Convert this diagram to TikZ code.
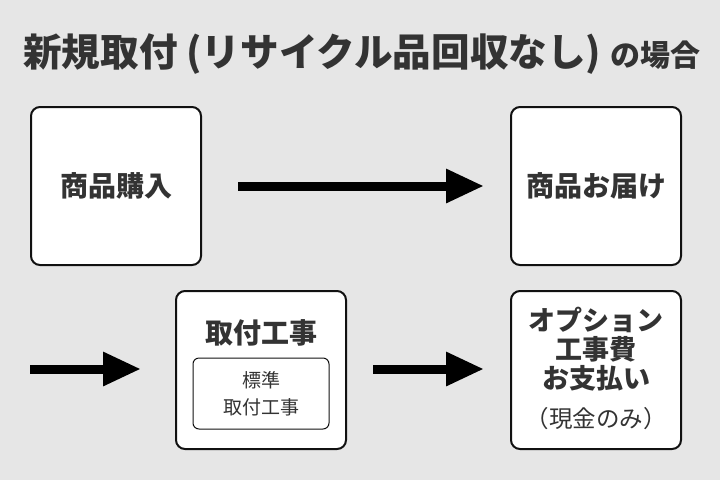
\documentclass[tikz,border=0pt]{standalone}
\usepackage{fontspec}
\setmainfont{Noto Sans CJK JP}
\usetikzlibrary{arrows.meta}
\definecolor{bg}{HTML}{E6E6E6}
\definecolor{txt}{HTML}{333333}
\definecolor{edge}{HTML}{111111}
\tikzset{
  box/.style={draw=edge, line width=2pt, fill=white, rounded corners=9pt, minimum width=170pt, minimum height=158pt, inner sep=0pt},
  inbox/.style={draw=edge, line width=1pt, fill=white, rounded corners=6pt, minimum width=136pt, minimum height=71pt, inner sep=0pt, align=center, text=txt, font=\fontsize{19pt}{27pt}\selectfont},
  lbl/.style={text=txt, font=\fontsize{28pt}{29pt}\selectfont\bfseries, align=center, inner sep=0pt},
  bigarrow/.style={draw=black, line width=9pt, -{Triangle[length=38pt,width=32pt]}}
}
\begin{document}
\begin{tikzpicture}[x=1pt,y=-1pt]
\fill[bg] (0,0) rectangle (720,480);
\useasboundingbox (0,0) rectangle (720,480);
\node[anchor=west, text=txt, inner sep=0pt] (title) at (23,54) {\bfseries\fontsize{38.6pt}{44pt}\selectfont 新規取付 (リサイクル品回収なし) \fontsize{30pt}{34pt}\selectfont の場合};
\node[box] (buy) at (116,186) {};
\node[lbl] (buyt) at (buy.center) {商品購入};
\node[box] (deliv) at (596,186) {};
\node[lbl] (delivt) at (deliv.center) {商品お届け};
\node[box] (inst) at (261,370) {};
\node[lbl] (instt) at (261,333) {取付工事};
\node[inbox] (std) at (261,393.5) {標準\\取付工事};
\node[box] (opt) at (596,370) {};
\node[lbl, font=\fontsize{27pt}{29pt}\selectfont\bfseries] (optt) at (596,349) {オプション\\工事費\\お支払い};
\node[text=txt, inner sep=0pt, font=\fontsize{23.5pt}{26pt}\selectfont] (cash) at (596,419) {（現金のみ）};
\coordinate (start) at (30,369);
\draw[bigarrow, shorten <=36pt, shorten >=26pt] (buy.east) -- (deliv.west);
\draw[bigarrow, shorten >=34pt] (start) -- (start -| inst.west);
\draw[bigarrow, shorten <=26pt, shorten >=26pt] (inst.east |- start) -- (opt.west |- start);
\end{tikzpicture}
\end{document}
